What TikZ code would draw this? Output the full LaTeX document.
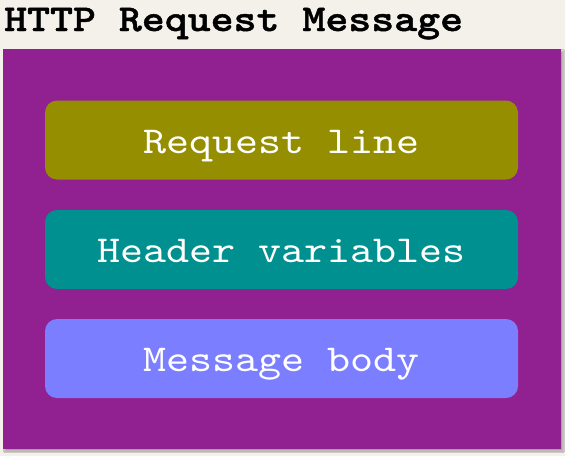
\documentclass[tikz,border=0pt]{standalone}
\usepackage{fontspec}
\setmonofont{lmmono10-regular.otf}[FakeStretch=1.155]
\newfontfamily\headfont{lmmonolt10-bold.otf}[FakeStretch=1.15, FakeBold=1.2]
\usetikzlibrary{shadows.blur}
\definecolor{paper}{HTML}{F4F1EB}
\definecolor{frame}{HTML}{912190}
\definecolor{olive}{HTML}{958E00}
\definecolor{tealbox}{HTML}{009090}
\definecolor{bluebox}{HTML}{7B7FFF}
\tikzset{
  part/.style={rounded corners=12pt, minimum width=473pt, minimum height=79pt,
    inner sep=0pt, text=white, text height=30pt, text depth=4pt,
    font=\ttfamily\fontsize{38}{40}\selectfont},
  container/.style={fill=frame, minimum width=558pt, minimum height=400pt,
    inner sep=0pt, blur shadow={shadow xshift=2pt, shadow yshift=-2pt,
    shadow blur steps=6, shadow opacity=35}},
  heading/.style={anchor=base west, inner sep=0pt,
    font=\headfont\fontsize{38}{40}\selectfont}
}
\begin{document}
\begin{tikzpicture}[x=1pt, y=-1pt]
  \fill[paper] (0,0) rectangle (565,456);
  \useasboundingbox (0,0) rectangle (565,456);
  \node[heading] (title) at (4,31) {HTTP Request Message};
  \node[container] (msg) at (282,249) {};
  \node[part, fill=olive] (reqline) at (281.5,140) {Request line};
  \node[part, fill=tealbox] (headers) at (281.5,249.5) {Header variables};
  \node[part, fill=bluebox] (body) at (281.5,358.5) {Message body};
\end{tikzpicture}
\end{document}
